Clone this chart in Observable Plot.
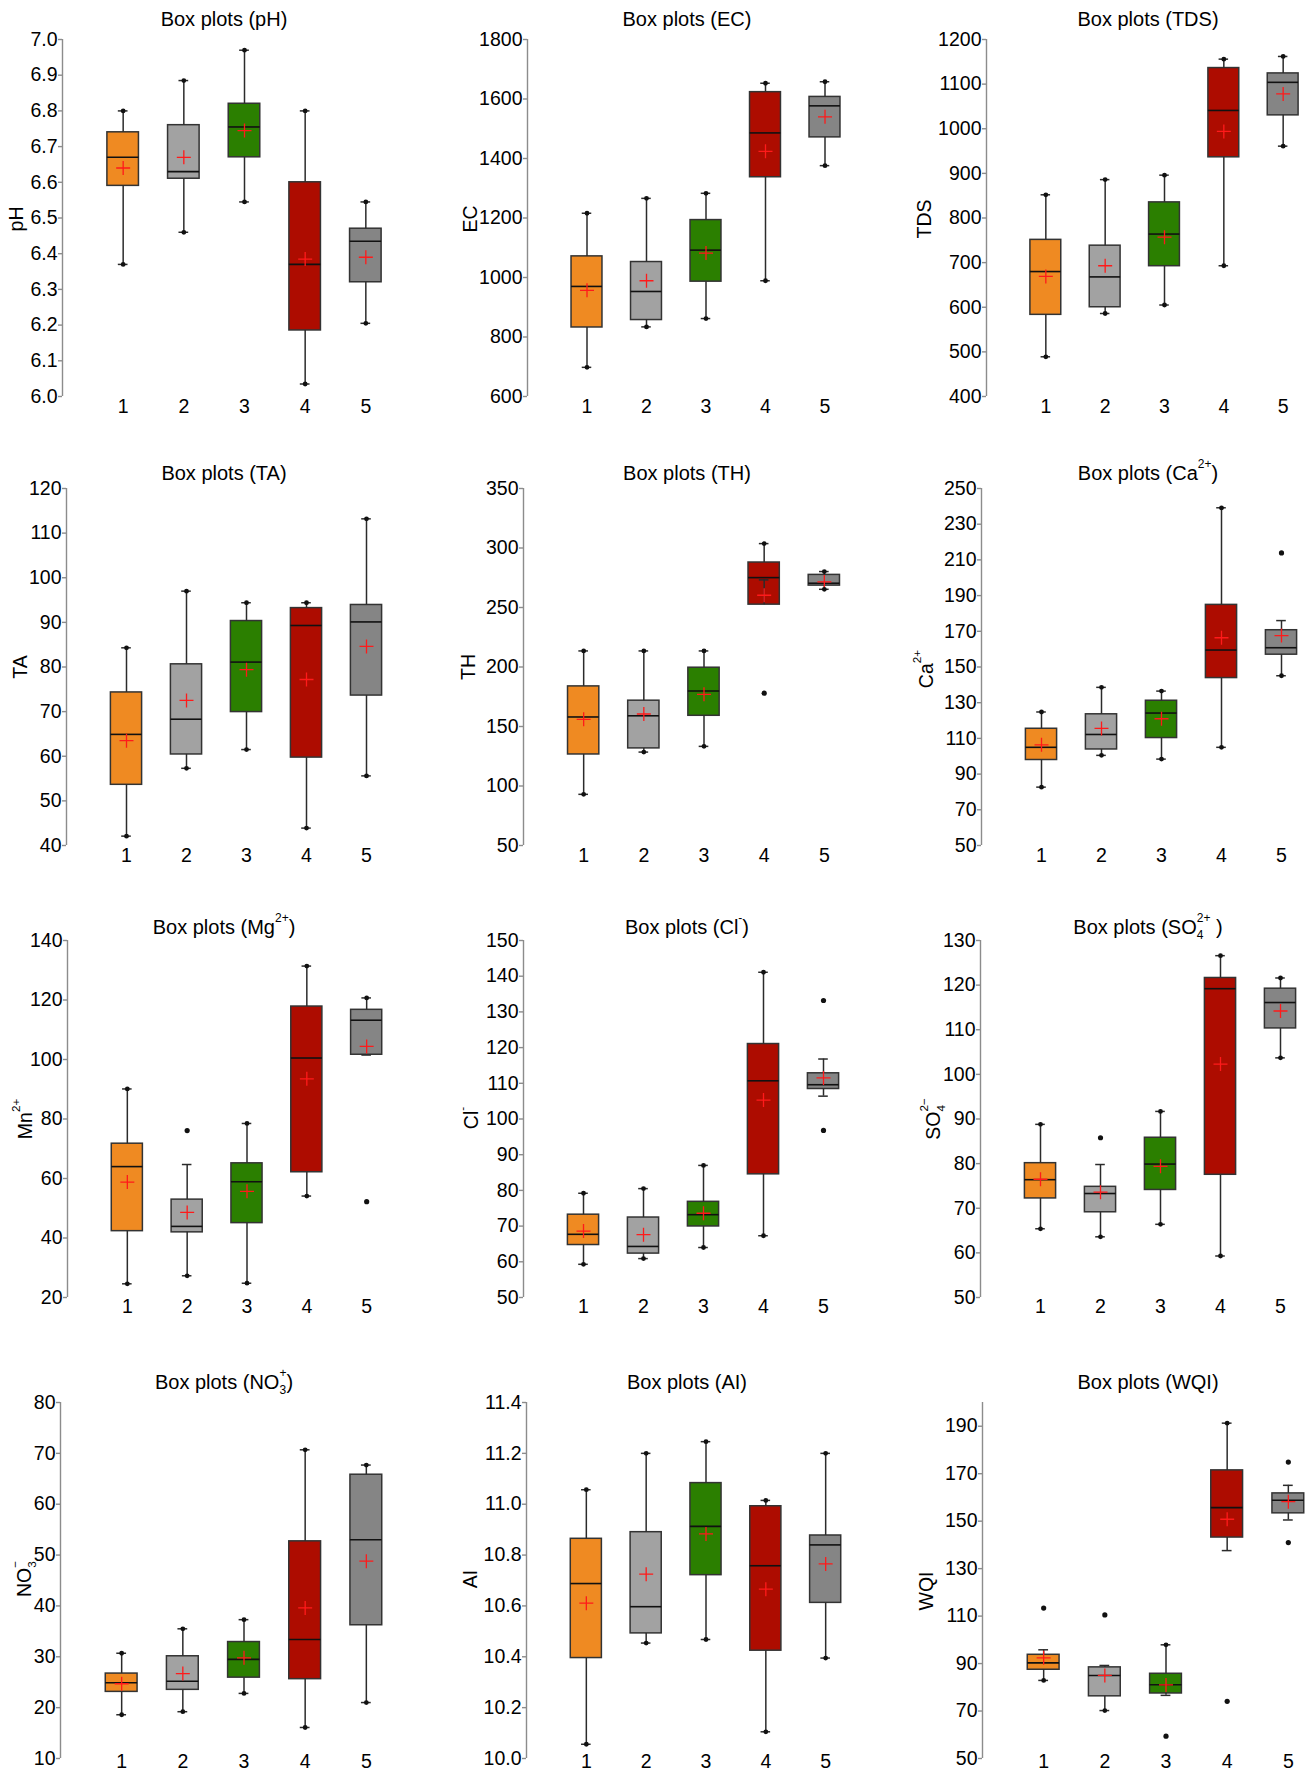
<!DOCTYPE html>
<html>
<head>
<meta charset="utf-8">
<script src="https://cdn.jsdelivr.net/npm/d3@7"></script>
<script src="https://cdn.jsdelivr.net/npm/@observablehq/plot@0.6"></script>
<style>
  html, body { margin: 0; padding: 0; background: #fff; }
  #chart { position: relative; width: 1305px; height: 1774px; overflow: hidden; background: #fff;
           font-family: "Liberation Sans", Arial, Helvetica, sans-serif; color: #000; }
  #chart svg { position: absolute; }
  .title { position: absolute; font-size: 20px; line-height: 20px; white-space: nowrap; transform: translateX(-50%); }
  .ylab { position: absolute; font-size: 19.5px; line-height: 19.5px; white-space: nowrap;
          transform: translate(-50%, -50%) rotate(-90deg); }
  .scr { display: inline-block; position: relative; font-size: 0.6em; line-height: 1; }
  .scr .u { position: relative; top: -1.0em; }
  .scr .d { position: absolute; left: 0; top: 0.4em; }
</style>
</head>
<body>
<div id="chart"></div>
<script>
// Sampling-site groups on the x axis
const groups = [1, 2, 3, 4, 5];
const boxColors = ["#ef8a22", "#a2a2a2", "#2b7f00", "#ad0c00", "#858585"];

// Each row is one group: [lower whisker, Q1, median, Q3, upper whisker, mean]
const pH = [
  [6.37, 6.59, 6.67, 6.74, 6.80, 6.64],
  [6.46, 6.61, 6.63, 6.76, 6.885, 6.67],
  [6.545, 6.67, 6.755, 6.82, 6.97, 6.745],
  [6.035, 6.185, 6.37, 6.60, 6.80, 6.385],
  [6.205, 6.32, 6.435, 6.47, 6.545, 6.39]
];
const pHOutliers = [];
const pHTicks = [6.0, 6.1, 6.2, 6.3, 6.4, 6.5, 6.6, 6.7, 6.8, 6.9, 7.0];

const EC = [
  [698, 832, 970, 1071, 1216, 957],
  [834, 857, 953, 1052, 1266, 989],
  [862, 986, 1092, 1193, 1283, 1082],
  [989, 1337, 1486, 1623, 1653, 1424],
  [1376, 1471, 1577, 1607, 1658, 1540]
];
const ECOutliers = [];
const ECTicks = [600, 800, 1000, 1200, 1400, 1600, 1800];

const TDS = [
  [489, 583, 680, 751, 852, 669],
  [586, 600, 668, 738, 886, 693],
  [605, 692, 764, 835, 896, 757],
  [693, 936, 1041, 1136, 1156, 994],
  [961, 1030, 1104, 1124, 1162, 1078]
];
const TDSOutliers = [];
const TDSTicks = [400, 500, 600, 700, 800, 900, 1000, 1100, 1200];

const TA = [
  [42.1, 53.6, 64.9, 74.3, 84.3, 63.5],
  [57.3, 60.4, 68.3, 80.6, 97.0, 72.5],
  [61.5, 69.9, 81.1, 90.3, 94.4, 79.4],
  [43.9, 59.7, 89.3, 93.2, 94.4, 77.2],
  [55.6, 73.6, 90.1, 93.9, 113.2, 84.6]
];
const TAOutliers = [];
const TATicks = [40, 50, 60, 70, 80, 90, 100, 110, 120];

const TH = [
  [93, 126.5, 158, 183.7, 213.5, 156],
  [128.5, 131.6, 159, 171.7, 213.5, 160.5],
  [133.3, 159, 179.8, 199.4, 213.5, 177],
  [273.2, 252.4, 275.1, 287.8, 303.7, 260.3],
  [265.3, 268.4, 270.4, 277.4, 280.2, 271.5]
];
const THOutliers = [[4, 178]];
const THTicks = [50, 100, 150, 200, 250, 300, 350];

const Ca = [
  [82.7, 97.9, 105, 115.4, 124.8, 106.4],
  [100.5, 103.8, 112.2, 123.5, 138.6, 115.6],
  [98.4, 110.2, 124.2, 131.1, 136.5, 121],
  [105, 143.8, 159.5, 184.8, 239.2, 166.4],
  [145.1, 156.9, 160.8, 170.6, 176, 167.6]
];
const CaOutliers = [[5, 213.9]];
const CaTicks = [50, 70, 90, 110, 130, 150, 170, 190, 210, 230, 250];

const Mg = [
  [24.6, 42.3, 64, 71.7, 90.1, 58.8],
  [27.3, 41.9, 43.9, 52.9, 64.7, 48.6],
  [24.8, 45, 58.9, 65.1, 78.5, 55.7],
  [54.1, 62.1, 100.5, 117.8, 131.4, 93.5],
  [101.5, 101.6, 113.2, 116.7, 120.7, 104.4]
];
const MgOutliers = [[2, 76.1], [5, 52.2]];
const MgTicks = [20, 40, 60, 80, 100, 120, 140];

const Cl = [
  [59.3, 64.7, 67.7, 73.2, 79.2, 68.6],
  [60.9, 62.3, 64.3, 72.4, 80.5, 67.6],
  [64, 69.9, 73.2, 76.8, 87, 73.6],
  [67.3, 84.5, 110.7, 121, 141.1, 105.3],
  [106.4, 108.4, 109.6, 112.8, 116.8, 111.5]
];
const ClOutliers = [[5, 133.2], [5, 96.8]];
const ClTicks = [50, 60, 70, 80, 90, 100, 110, 120, 130, 140, 150];

const SO4 = [
  [65.4, 72.2, 76.4, 80.1, 88.8, 76.5],
  [63.6, 69.1, 73.3, 74.8, 79.8, 73.6],
  [66.4, 74.1, 79.9, 85.8, 91.7, 79.4],
  [59.3, 77.5, 119.2, 121.6, 126.6, 102.3],
  [103.7, 110.3, 116.1, 119.2, 121.6, 114.2]
];
const SO4Outliers = [[2, 85.8]];
const SO4Ticks = [50, 60, 70, 80, 90, 100, 110, 120, 130];

const NO3 = [
  [18.6, 23.1, 24.9, 26.7, 30.7, 24.7],
  [19.2, 23.5, 25.2, 30.1, 35.5, 26.7],
  [22.8, 25.9, 29.5, 32.9, 37.3, 29.8],
  [16.1, 25.6, 33.4, 52.7, 70.7, 39.6],
  [21, 36.2, 53, 65.8, 67.7, 48.8]
];
const NO3Outliers = [];
const NO3Ticks = [10, 20, 30, 40, 50, 60, 70, 80];

const AI = [
  [10.056, 10.395, 10.688, 10.864, 11.057, 10.611],
  [10.454, 10.492, 10.597, 10.890, 11.2, 10.725],
  [10.468, 10.721, 10.913, 11.083, 11.246, 10.883],
  [10.105, 10.424, 10.758, 10.992, 11.015, 10.666],
  [10.395, 10.612, 10.840, 10.877, 11.2, 10.765]
];
const AIOutliers = [];
const AITicks = [10.0, 10.2, 10.4, 10.6, 10.8, 11.0, 11.2, 11.4];

const WQI = [
  [82.9, 87.4, 90.3, 93.7, 95.8, 92.4],
  [70.2, 76.2, 85, 88.4, 89.2, 85],
  [76.6, 77.4, 81.1, 85.7, 97.9, 81],
  [137.6, 143.1, 155.7, 171.4, 191.3, 150.8],
  [150.5, 153.3, 158.8, 161.7, 165.1, 158.2]
];
const WQIOutliers = [[1, 113.4], [2, 110.5], [3, 59.4], [4, 74.1], [5, 174.9], [5, 141]];
const WQITicks = [50, 70, 90, 110, 130, 150, 170, 190];

// Ion notation helpers (super/subscripts stacked after the element symbol)
const sup = (u) => `<span class="scr"><span class="u">${u}</span></span>`;
const supsub = (u, d) => `<span class="scr"><span class="u">${u}</span><span class="d">${d}</span></span>`;

const panels = [
  {stats: pH,  outliers: pHOutliers,  ticks: pHTicks,  domain: [6.0, 7.0], fmt: ".1f", title: "Box plots (pH)",  label: "pH"},
  {stats: EC,  outliers: ECOutliers,  ticks: ECTicks,  domain: [600, 1800], fmt: "d", title: "Box plots (EC)",  label: "EC"},
  {stats: TDS, outliers: TDSOutliers, ticks: TDSTicks, domain: [400, 1200], fmt: "d", title: "Box plots (TDS)", label: "TDS"},
  {stats: TA,  outliers: TAOutliers,  ticks: TATicks,  domain: [40, 120],  fmt: "d", title: "Box plots (TA)",  label: "TA"},
  {stats: TH,  outliers: THOutliers,  ticks: THTicks,  domain: [50, 350],  fmt: "d", title: "Box plots (TH)",  label: "TH"},
  {stats: Ca,  outliers: CaOutliers,  ticks: CaTicks,  domain: [50, 250],  fmt: "d", title: "Box plots (Ca" + sup("2+") + ")", label: "Ca" + sup("2+")},
  {stats: Mg,  outliers: MgOutliers,  ticks: MgTicks,  domain: [20, 140],  fmt: "d", title: "Box plots (Mg" + sup("2+") + ")", label: "Mn" + sup("2+")},
  {stats: Cl,  outliers: ClOutliers,  ticks: ClTicks,  domain: [50, 150],  fmt: "d", title: "Box plots (Cl" + sup("-") + ")", label: "Cl" + sup("-")},
  {stats: SO4, outliers: SO4Outliers, ticks: SO4Ticks, domain: [50, 130],  fmt: "d", title: "Box plots (SO" + supsub("2+", "4") + " )", label: "SO" + supsub("2\u2212", "4")},
  {stats: NO3, outliers: NO3Outliers, ticks: NO3Ticks, domain: [10, 80],   fmt: "d", title: "Box plots (NO" + supsub("+", "3") + ")", label: "NO" + supsub("\u2212", "3")},
  {stats: AI,  outliers: AIOutliers,  ticks: AITicks,  domain: [10.0, 11.4], fmt: ".1f", title: "Box plots (AI)", label: "AI"},
  {stats: WQI, outliers: WQIOutliers, ticks: WQITicks, domain: [50, 200],  fmt: "d", title: "Box plots (WQI)", label: "WQI"}
];

// Page geometry: 3 columns x 4 rows of panels
const colLeft = [0, 435, 870];
const titleX = [224, 687, 1148];
const rowTop = [0, 445, 895, 1345];
const axisTop = [39, 488, 940, 1402];
const axisBottom = [396, 845, 1297, 1758];
const titleBase = [26, 480, 934, 1389];
const xPad = [3, 3, 2, -4];
const layout = [
  {axis: 62,  end: 426,  lx: 17,  ly: 219},
  {axis: 527, end: 884,  lx: 471, ly: 219},
  {axis: 986, end: 1342, lx: 925, ly: 219},
  {axis: 66,  end: 426,  lx: 21,  ly: 667},
  {axis: 523, end: 884,  lx: 469, ly: 667},
  {axis: 981, end: 1341, lx: 927, ly: 669},
  {axis: 67,  end: 426,  lx: 26,  ly: 1119},
  {axis: 523, end: 883,  lx: 472, ly: 1118},
  {axis: 980, end: 1340, lx: 934, ly: 1119},
  {axis: 60,  end: 427,  lx: 25,  ly: 1579},
  {axis: 526, end: 885,  lx: 471, ly: 1579},
  {axis: 982, end: 1349, lx: 927, ly: 1591}
];

const SVG_W = 490, SVG_H = 450;
const BOX = 0.26;   // half box width, in group units
const CAP = 0.08;   // half whisker-cap width, in group units
const axisGray = "#8c8c8c";

// Mean marker: an open "+" drawn with strokes
const crossSymbol = {
  draw(ctx, size) {
    const r = Math.sqrt(size / Math.PI);
    ctx.moveTo(-r, 0); ctx.lineTo(r, 0);
    ctx.moveTo(0, -r); ctx.lineTo(0, r);
  }
};

const chart = document.getElementById("chart");

panels.forEach((p, k) => {
  const col = k % 3, row = Math.floor(k / 3);
  const L = layout[k];
  const left = colLeft[col], top = rowTop[row];

  const out = p.outliers.map(([g, v]) => ({g, v}));
  const stats = p.stats.map((s, i) => {
    const g = groups[i];
    const o = out.filter((e) => e.g === g).map((e) => e.v);
    return {
      g, low: s[0], q1: s[1], med: s[2], q3: s[3], high: s[4], mean: s[5],
      color: boxColors[i],
      lowIsMin: o.every((v) => v > s[0]),
      highIsMax: o.every((v) => v < s[4])
    };
  });

  const svg = Plot.plot({
    width: SVG_W,
    height: SVG_H,
    marginLeft: L.axis - left,
    marginRight: SVG_W - (L.end - left),
    marginTop: axisTop[row] - top,
    marginBottom: SVG_H - (axisBottom[row] - top),
    x: {domain: [0, 6]},
    y: {domain: p.domain},
    color: {type: "identity"},
    style: {
      background: "transparent",
      overflow: "visible",
      fontFamily: "'Liberation Sans', Arial, Helvetica, sans-serif",
      fontSize: "19.5px",
      color: "#000"
    },
    marks: [
      Plot.ruleX([0], {stroke: axisGray, strokeWidth: 1.4}),
      Plot.axisY(p.ticks, {
        tickSize: 4, tickPadding: 1, tickFormat: d3.format(p.fmt),
        stroke: axisGray, strokeWidth: 1.4, fill: "#000", label: null
      }),
      Plot.axisX(groups, {tickSize: 0, tickPadding: xPad[row], fill: "#000", label: null}),
      // boxes
      Plot.rect(stats, {
        x1: (d) => d.g - BOX, x2: (d) => d.g + BOX, y1: "q1", y2: "q3",
        fill: "color", stroke: "#333", strokeWidth: 1.5
      }),
      // whiskers
      Plot.ruleX(stats, {x: "g", y1: "q3", y2: "high", stroke: "#2b2b2b", strokeWidth: 1.5}),
      Plot.ruleX(stats, {x: "g", y1: "low", y2: "q1", stroke: "#2b2b2b", strokeWidth: 1.5}),
      Plot.ruleY(stats, {y: "high", x1: (d) => d.g - CAP, x2: (d) => d.g + CAP, stroke: "#2b2b2b", strokeWidth: 1.5}),
      Plot.ruleY(stats, {y: "low", x1: (d) => d.g - CAP, x2: (d) => d.g + CAP, stroke: "#2b2b2b", strokeWidth: 1.5}),
      // medians
      Plot.ruleY(stats, {y: "med", x1: (d) => d.g - BOX, x2: (d) => d.g + BOX, stroke: "#111", strokeWidth: 1.6}),
      // means
      Plot.dot(stats, {x: "g", y: "mean", symbol: crossSymbol, r: 7, stroke: "#ff1a1a", strokeWidth: 1.3, fill: "none"}),
      // minimum / maximum points and outliers
      Plot.dot(stats.filter((d) => d.highIsMax), {x: "g", y: "high", r: 2.4, fill: "#111", stroke: "none"}),
      Plot.dot(stats.filter((d) => d.lowIsMin), {x: "g", y: "low", r: 2.4, fill: "#111", stroke: "none"}),
      Plot.dot(out, {x: "g", y: "v", r: 2.6, fill: "#111", stroke: "none"})
    ]
  });
  svg.style.left = left + "px";
  svg.style.top = top + "px";
  chart.appendChild(svg);

  const t = document.createElement("div");
  t.className = "title";
  t.innerHTML = p.title;
  t.style.left = titleX[col] + "px";
  t.style.top = (titleBase[row] - 17) + "px";
  chart.appendChild(t);

  const yl = document.createElement("div");
  yl.className = "ylab";
  yl.innerHTML = p.label;
  yl.style.left = L.lx + "px";
  yl.style.top = L.ly + "px";
  chart.appendChild(yl);
});
</script>
</body>
</html>
